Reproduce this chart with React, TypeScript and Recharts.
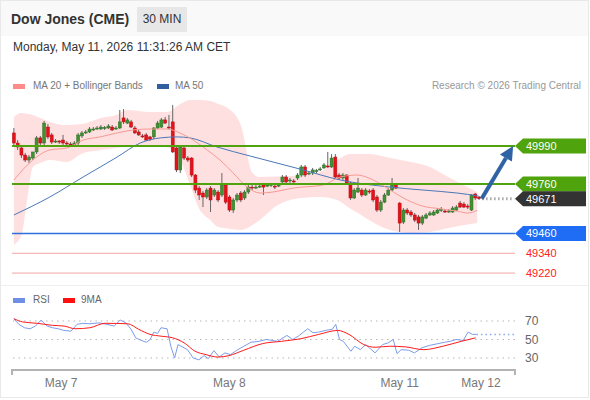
import React from 'react';
import { ComposedChart, LineChart, Line, Area, Bar, XAxis, YAxis, ReferenceLine } from 'recharts';

const FONT = '"Liberation Sans", Arial, Helvetica, sans-serif';

// 30 min candles, May 7 -> May 11 11:30 CET
const opens = [
  50069, 50008, 49978, 49935, 49905, 49917, 49954, 50039, 50008, 50105,
  50057, 50014, 50020, 50026, 50008, 50002, 49996, 50008, 50051, 50069,
  50075, 50087, 50093, 50093, 50099, 50099, 50105, 50093, 50099, 50160,
  50129, 50136, 50099, 50075, 50051, 50057, 50045, 50045, 50099, 50105,
  50148, 50105, 50136, 49978, 49845, 49978, 49917, 49917, 49814, 49735,
  49705, 49681, 49735, 49693, 49711, 49693, 49754, 49681, 49602, 49663,
  49705, 49675, 49711, 49741, 49735, 49741, 49754, 49747, 49754, 49747,
  49747, 49772, 49802, 49778, 49778, 49796, 49814, 49863, 49820, 49826,
  49838, 49845, 49857, 49869, 49863, 49923, 49814, 49796, 49814, 49766,
  49675, 49711, 49723, 49693, 49717, 49723, 49681, 49602, 49650, 49693,
  49723, 49754, 49644, 49529, 49602, 49590, 49572, 49560, 49523, 49553,
  49572, 49572, 49584, 49602, 49596, 49590, 49590, 49602, 49644, 49638,
  49626, 49602, 49699, 49681,
];
const highs = [
  50099, 50026, 49990, 49948, 49935, 49929, 50051, 50051, 50142, 50123,
  50069, 50032, 50026, 50057, 50020, 50014, 50020, 50069, 50081, 50087,
  50105, 50105, 50111, 50117, 50111, 50123, 50117, 50111, 50208, 50214,
  50160, 50148, 50111, 50087, 50063, 50069, 50051, 50105, 50142, 50160,
  50166, 50178, 50239, 49990, 49996, 49990, 49929, 49923, 49820, 49747,
  49717, 49735, 49747, 49735, 49723, 49826, 49766, 49693, 49675, 49705,
  49717, 49723, 49754, 49754, 49754, 49760, 49766, 49766, 49766, 49760,
  49766, 49814, 49814, 49796, 49790, 49826, 49875, 49875, 49838, 49857,
  49851, 49863, 49887, 49954, 49941, 49941, 49826, 49826, 49820, 49772,
  49735, 49796, 49735, 49735, 49729, 49735, 49693, 49663, 49705, 49735,
  49796, 49766, 49650, 49614, 49614, 49602, 49584, 49572, 49572, 49584,
  49596, 49602, 49614, 49620, 49608, 49608, 49626, 49632, 49657, 49650,
  49638, 49699, 49705, 49687,
];
const lows = [
  49996, 49966, 49917, 49893, 49887, 49905, 49941, 49990, 49996, 50032,
  50002, 50008, 50002, 49996, 49990, 49984, 49984, 49996, 50039, 50063,
  50069, 50081, 50087, 50087, 50087, 50093, 50081, 50087, 50093, 50123,
  50123, 50099, 50063, 50051, 50039, 50020, 50020, 50032, 50093, 50099,
  50123, 50093, 49948, 49832, 49826, 49905, 49893, 49802, 49705, 49663,
  49620, 49669, 49590, 49681, 49650, 49681, 49638, 49590, 49584, 49650,
  49650, 49663, 49699, 49723, 49729, 49735, 49693, 49741, 49741, 49729,
  49741, 49760, 49760, 49766, 49760, 49784, 49802, 49802, 49814, 49814,
  49826, 49838, 49851, 49857, 49857, 49790, 49784, 49784, 49754, 49663,
  49669, 49705, 49681, 49687, 49699, 49650, 49590, 49590, 49644, 49687,
  49717, 49729, 49469, 49517, 49572, 49560, 49529, 49481, 49511, 49547,
  49566, 49566, 49578, 49590, 49584, 49584, 49584, 49596, 49614, 49614,
  49608, 49596, 49663, 49663,
];
const closes = [
  50008, 49984, 49935, 49905, 49923, 49954, 50039, 50008, 50129, 50045,
  50014, 50020, 50014, 50008, 50005, 49996, 50008, 50057, 50069, 50075,
  50093, 50093, 50099, 50105, 50102, 50111, 50087, 50099, 50136, 50136,
  50148, 50105, 50069, 50057, 50045, 50026, 50032, 50099, 50129, 50148,
  50129, 50099, 49954, 49845, 49984, 49917, 49905, 49814, 49723, 49693,
  49681, 49723, 49663, 49723, 49663, 49754, 49650, 49602, 49663, 49693,
  49663, 49711, 49741, 49735, 49741, 49747, 49741, 49754, 49757, 49741,
  49754, 49802, 49772, 49784, 49772, 49814, 49863, 49814, 49826, 49845,
  49841, 49851, 49875, 49863, 49917, 49802, 49796, 49814, 49766, 49675,
  49723, 49735, 49693, 49723, 49711, 49663, 49602, 49650, 49693, 49723,
  49754, 49735, 49523, 49602, 49584, 49572, 49541, 49523, 49560, 49572,
  49584, 49590, 49602, 49605, 49590, 49596, 49614, 49620, 49620, 49620,
  49623, 49693, 49675, 49671,
];

// [candle index, value]
const ma20: [number, number][] = [
  [0, 49784], [5, 49905], [9.5, 49966], [14, 49978], [18.3, 50026], [22.8, 50045],
  [27.3, 50069], [31.5, 50087], [36, 50093], [40.5, 50093], [43.9, 50069], [47.4, 50026],
  [51.1, 49966], [54.5, 49905], [58, 49826], [61.7, 49741], [65.1, 49705], [68.5, 49711],
  [73.8, 49735], [81.8, 49754], [86.3, 49802], [90.8, 49814], [95, 49784], [99.5, 49723],
  [104, 49663], [108.2, 49625], [112.7, 49610], [117.2, 49595], [120, 49584], [122.5, 49600],
];
const ma50: [number, number][] = [
  [0, 49572], [9.5, 49681], [18.3, 49802], [27.3, 49923], [33.4, 50008], [38.7, 50039],
  [43.2, 50045], [46.6, 50039], [53.7, 49984], [62.5, 49929], [75.7, 49850], [86.3, 49784],
  [99.5, 49741], [108.2, 49723], [117.2, 49705], [122.8, 49687],
];
// [candle index, lower band, upper band]
const bollinger: [number, number, number][] = [
  [0, 49390, 50166], [2, 49450, 50190], [3.5, 49663, 50186], [5, 49863, 50178],
  [7, 49887, 50160], [9.5, 49905, 50136], [14, 49893, 50117], [18, 49945, 50123],
  [23, 49966, 50160], [27, 49978, 50178], [30, 49990, 50208], [36, 49996, 50196],
  [40.5, 49984, 50196], [44, 49905, 50245], [46.5, 49760, 50269], [49, 49610, 50268],
  [52, 49540, 50263], [54, 49499, 50245], [56.5, 49490, 50220], [60, 49481, 50117],
  [63, 49510, 49830], [65, 49541, 49802], [69, 49620, 49805], [73, 49663, 49808],
  [76, 49675, 49810], [81, 49681, 49832], [85.5, 49663, 49905], [89, 49610, 49941],
  [91, 49584, 49941], [94, 49540, 49941], [99.5, 49481, 49917], [105, 49463, 49893],
  [110, 49469, 49863], [115, 49493, 49800], [122.5, 49523, 49711],
];

const rsi: [number, number][] = [
  [0, 72.5], [1.3, 66.4], [2.8, 62.7], [4.3, 61.6], [5.7, 64.5], [7.2, 71], [8.8, 64.5],
  [10.2, 62.7], [11.7, 61.6], [13.2, 59.8], [15.1, 59], [16.7, 66.4], [18.2, 67.5],
  [20.1, 67], [22.5, 68], [24.6, 66.4], [26.5, 64.5], [28.1, 71], [29.6, 68], [31, 61],
  [32.2, 51.8], [33.5, 49.3], [35, 47], [36, 50], [37, 58], [38, 56.5], [38.9, 62.7],
  [40.5, 61.6], [41.5, 42.7], [42.5, 30], [43.4, 44.5], [45, 41], [45.9, 39], [47.4, 30],
  [48.9, 28], [50.3, 32.5], [51.4, 29.3], [52.9, 38], [54.3, 31], [55.8, 35.5],
  [57.3, 33.6], [58.8, 38], [60.8, 42.7], [62.7, 47], [64.8, 48], [66.7, 50], [69.7, 48],
  [72.2, 54.4], [73.7, 50], [75.2, 53.6], [77.7, 61.6], [79.1, 57.3], [80.6, 58],
  [82.6, 60], [84.2, 61], [85.1, 66.4], [86.1, 50], [87.1, 48], [89.1, 37.3], [90.1, 42.7],
  [91.6, 39], [93, 44.5], [94, 41], [95.5, 35.5], [97.5, 44.5], [99, 46.4], [100.3, 50],
  [101.3, 34.7], [102.4, 39], [104.4, 38.4], [105.9, 35.5], [107.9, 41], [109.8, 43.5],
  [111.9, 45.3], [113.9, 47], [115.4, 48], [116.9, 50], [118.8, 49], [120.1, 58],
  [121.3, 55.5], [122.3, 55.5],
];
const rsiMa9: [number, number][] = [
  [0, 72.5], [2.3, 69], [6.2, 67.5], [10.2, 65.3], [13.3, 64.5], [16.2, 61.6], [20.1, 62.7],
  [24.1, 67.5], [30.1, 67], [33, 61], [36, 55.5], [38.9, 53.6], [42, 51.8], [45, 46.4],
  [47.9, 37.3], [50.8, 33.6], [53.9, 31], [56.8, 32.5], [60.8, 38.4], [65.8, 45.6],
  [70.7, 48], [75.7, 50.7], [80.6, 55.5], [85.6, 59.8], [88.6, 55.5], [92.5, 44.5],
  [95.5, 41.6], [99.5, 42.7], [103.5, 42], [108.4, 39], [113.4, 42.7], [118.3, 48],
  [122.1, 51.8],
];

const dateTicks = [12.5, 57, 102, 123.5];
const dateLabels = ['May 7', 'May 8', 'May 11', 'May 12'];
const rsiLevels = [70, 50, 30];

const resistance = [49990, 49760];
const lastPrice = 49671;
const support = 49460;
const lowerLevels = [49340, 49220];
const target = 49990;

const X_DOMAIN: [number, number] = [-0.5, 132.5];
const GREEN = '#4fa30c';

const candleRows = opens.map((o, i) => ({ i, o, h: highs[i], l: lows[i], c: closes[i] }));
const toRows = (pts: [number, number][]) => pts.map(([i, v]) => ({ i, v }));
const bandRows = bollinger.map(([i, lo, hi]) => ({ i, range: [lo, hi] }));
const lastIdx = candleRows.length - 1;

function Candle(props: any) {
  const { x, y, width, height, payload } = props;
  if (x == null || !payload) return null;
  const { o, h, l, c } = payload;
  const top = Math.min(y, y + height);
  const span = Math.abs(height);
  const ppu = h > l ? span / (h - l) : 0;
  const py = (v: number) => top + (h - v) * ppu;
  const cx = x + width / 2;
  const up = c >= o;
  const b1 = Math.min(py(o), py(c));
  const bh = Math.max(1, Math.abs(py(o) - py(c)));
  return (
    <g>
      <line x1={cx} x2={cx} y1={top} y2={top + span} stroke="#666" strokeWidth={1} />
      <rect x={cx - 1.5} y={b1} width={3} height={bh}
        fill={up ? '#3f9133' : '#e4121b'} stroke={up ? '#2c6e25' : '#b50a10'} strokeWidth={0.5} />
    </g>
  );
}

function tag(text: string, bg: string | null, fg: string) {
  return (props: any) => {
    const vb = props.viewBox || props;
    const x0 = vb.x + vb.width;
    const y = vb.y;
    if (!bg) {
      return (
        <text x={x0 + 11} y={y + 4} fill={fg} fontSize={11} fontFamily={FONT}>{text}</text>
      );
    }
    return (
      <g>
        <path d={`M${x0},${y} L${x0 + 8},${y - 7.5} H${x0 + 71} V${y + 7.5} H${x0 + 8} Z`} fill={bg} />
        <text x={x0 + 11} y={y + 4} fill={fg} fontSize={11} fontFamily={FONT}>{text}</text>
      </g>
    );
  };
}

function Arrow(props: any) {
  const { x1, y1, x2, y2 } = props;
  if (x1 == null) return null;
  const ang = Math.atan2(y2 - y1, x2 - x1);
  const head = 14;
  const half = 7;
  const bx = x2 - head * Math.cos(ang);
  const by = y2 - head * Math.sin(ang);
  const px = -Math.sin(ang) * half;
  const py = Math.cos(ang) * half;
  return (
    <g>
      <line x1={x1} y1={y1} x2={bx} y2={by} stroke="#2f63a6" strokeWidth={4} />
      <polygon points={`${x2},${y2} ${bx + px},${by + py} ${bx - px},${by - py}`} fill="#2f63a6" />
    </g>
  );
}

function DateTick(props: any) {
  const { x, y, payload } = props;
  const v = payload.value;
  if (v === X_DOMAIN[0] || v === X_DOMAIN[1]) {
    return <line x1={x} x2={x} y1={y - 8} y2={y - 2} stroke="#b3b3b3" strokeWidth={2} />;
  }
  const k = dateTicks.indexOf(v);
  return (
    <text x={x} y={y + 10} textAnchor="middle" fill="#777" fontSize={12} fontFamily={FONT}>
      {dateLabels[k]}
    </text>
  );
}

const swatch = (left: number, top: number, color: string): React.CSSProperties => ({
  position: 'absolute', left, top, width: 12, height: 5, background: color,
});
const small: React.CSSProperties = { position: 'absolute', fontSize: 10, lineHeight: '10px', color: '#777' };

export default function App() {
  return (
    <div style={{ position: 'absolute', left: 0, top: 0, width: 590, height: 400, background: '#fff', fontFamily: FONT, overflow: 'hidden' }}>
      <div style={{ position: 'absolute', left: 0, top: 0, width: 589, height: 398, border: '1px solid #e9e9e9', boxSizing: 'border-box' }} />
      <div style={{ position: 'absolute', left: 1, top: 1, width: 587, height: 35, background: '#f9f9f9' }} />
      <div style={{ position: 'absolute', left: 11, top: 12, fontSize: 14, lineHeight: '14px', fontWeight: 'bold', color: '#333' }}>Dow Jones (CME)</div>
      <div style={{ position: 'absolute', left: 137, top: 7, width: 50, height: 25, background: '#e7e7e7', fontSize: 12, lineHeight: '25px', textAlign: 'center', color: '#333' }}>30 MIN</div>
      <div style={{ position: 'absolute', left: 13, top: 41, fontSize: 12, lineHeight: '12px', color: '#333' }}>Monday, May 11, 2026 11:31:26 AM CET</div>

      <div style={swatch(13, 84, '#ff8a8a')} />
      <div style={{ ...small, left: 33, top: 81 }}>MA 20 + Bollinger Bands</div>
      <div style={swatch(157, 84, '#2f5f9e')} />
      <div style={{ ...small, left: 175, top: 81 }}>MA 50</div>
      <div style={{ ...small, right: 9, top: 81, color: '#999' }}>Research © 2026 Trading Central</div>

      <div style={{ position: 'absolute', left: 0, top: 95 }}>
        <ComposedChart width={590} height={185} data={candleRows} margin={{ top: 0, right: 75, bottom: 0, left: 12 }}>
          <XAxis type="number" dataKey="i" domain={X_DOMAIN} hide allowDataOverflow />
          <YAxis type="number" domain={[49178, 50299]} hide allowDataOverflow />
          <Area data={bandRows} dataKey="range" type="monotone" stroke="none" fill="#ffe0e0" fillOpacity={1} isAnimationActive={false} />
          <Line data={toRows(ma50)} dataKey="v" type="monotone" stroke="#4a78b8" strokeWidth={1} dot={false} isAnimationActive={false} />
          <Line data={toRows(ma20)} dataKey="v" type="monotone" stroke="#f59a94" strokeWidth={1} dot={false} isAnimationActive={false} />
          {lowerLevels.map((v) => (
            <ReferenceLine key={v} y={v} stroke="#f2a5a5" strokeWidth={1} label={tag(String(v), null, '#ff2020')} />
          ))}
          <ReferenceLine y={support} stroke="#2f6fe0" strokeWidth={1.5} label={tag(String(support), '#1f6cf5', '#fff')} />
          {resistance.map((v) => (
            <ReferenceLine key={v} y={v} stroke={GREEN} strokeWidth={2} label={tag(String(v), GREEN, '#fff')} />
          ))}
          <Bar dataKey={(d: any) => [d.l, d.h]} barSize={3} shape={<Candle />} isAnimationActive={false} />
          <ReferenceLine segment={[{ x: lastIdx + 0.8, y: lastPrice }, { x: X_DOMAIN[1] - 0.2, y: lastPrice }]}
            stroke="#a8a8a8" strokeWidth={3} strokeDasharray="1.5 2.5" />
          <ReferenceLine y={lastPrice} stroke="none" strokeOpacity={0} label={tag(String(lastPrice), '#333', '#fff')} />
          <ReferenceLine segment={[{ x: lastIdx + 0.7, y: lastPrice }, { x: X_DOMAIN[1] - 0.5, y: target }]} shape={Arrow} />
        </ComposedChart>
      </div>

      <div style={{ position: 'absolute', left: 1, top: 285, width: 587, height: 1, background: '#eeeeee' }} />

      <div style={swatch(13, 298, '#6d8fe6')} />
      <div style={{ ...small, left: 33, top: 295, color: '#666' }}>RSI</div>
      <div style={swatch(63, 298, '#ff1010')} />
      <div style={{ ...small, left: 81, top: 295, color: '#666' }}>9MA</div>

      <div style={{ position: 'absolute', left: 0, top: 300 }}>
        <LineChart width={590} height={100} margin={{ top: 5, right: 35, bottom: 0, left: 12 }}>
          <XAxis type="number" dataKey="i" domain={X_DOMAIN} allowDataOverflow height={30}
            ticks={[X_DOMAIN[0], ...dateTicks, X_DOMAIN[1]]} interval={0}
            tick={<DateTick />} tickLine={false} tickSize={5} tickMargin={2}
            axisLine={{ stroke: '#b3b3b3', strokeWidth: 2 }} />
          <YAxis orientation="right" domain={[17, 87.3]} ticks={rsiLevels} interval={0} width={40} allowDataOverflow
            axisLine={false} tickLine={false} tickMargin={4} tick={{ fontSize: 12, fill: '#666', fontFamily: FONT }} />
          {rsiLevels.map((v) => (
            <ReferenceLine key={v} y={v} stroke="#b8b8b8" strokeDasharray="1.5 4" />
          ))}
          <Line data={toRows(rsi)} dataKey="v" type="linear" stroke="#7c9cec" strokeWidth={1} dot={false} isAnimationActive={false} />
          <Line data={toRows(rsiMa9)} dataKey="v" type="monotone" stroke="#ff1a1a" strokeWidth={1} dot={false} isAnimationActive={false} />
          <ReferenceLine segment={[{ x: rsi[rsi.length - 1][0], y: rsi[rsi.length - 1][1] }, { x: X_DOMAIN[1], y: rsi[rsi.length - 1][1] }]}
            stroke="#8fa9ee" strokeWidth={1.5} strokeDasharray="1.5 3" />
        </LineChart>
      </div>
    </div>
  );
}
